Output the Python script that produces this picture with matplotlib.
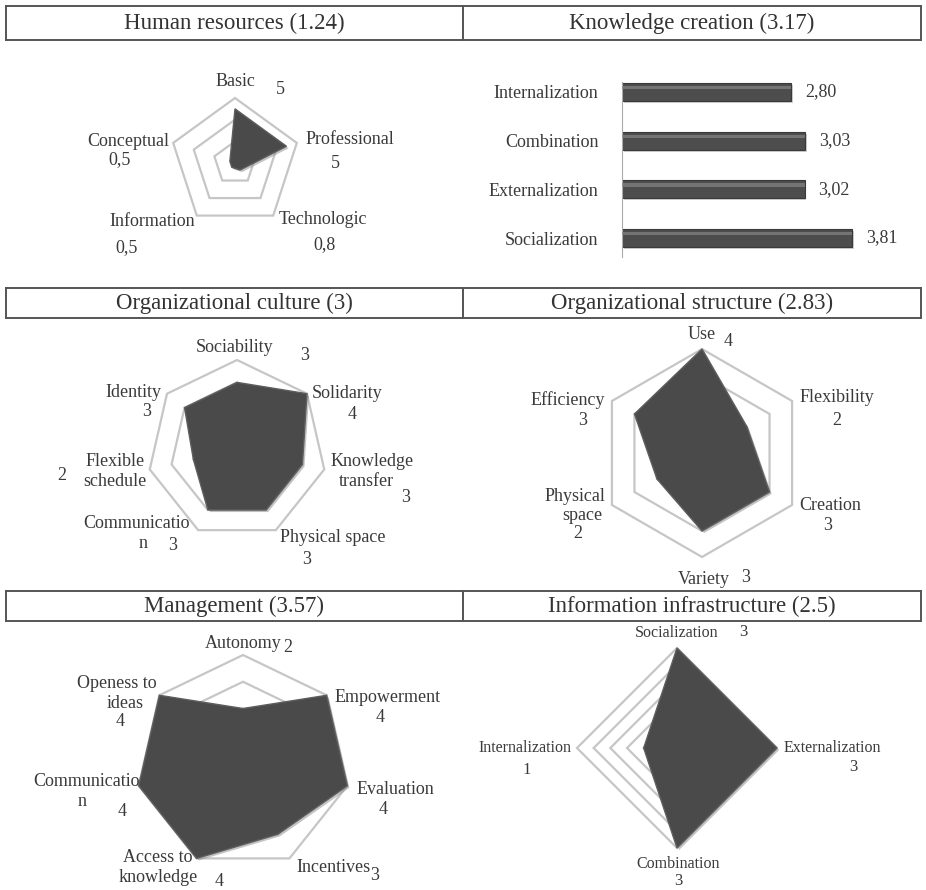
import matplotlib
matplotlib.use('Agg')
import matplotlib.pyplot as plt
import numpy as np
from matplotlib.patches import Polygon
from matplotlib.transforms import ScaledTranslation

W, H = 926, 890
fig = plt.figure(figsize=(W / 100, H / 100), dpi=100)
fig.patch.set_facecolor('white')
SERIF = ['Liberation Serif', 'DejaVu Serif']
LFS = 13  # label font size
LH = 20   # line height (px) for wrapped labels

# ---------------- data ----------------
titles = ['Human resources (1.24)', 'Knowledge creation (3.17)',
          'Organizational culture (3)', 'Organizational structure (2.83)',
          'Management (3.57)', 'Information infrastructure (2.5)']

hr_names = ['Basic', 'Professional', 'Technologic', 'Information', 'Conceptual']
hr_vals = [5, 5, 0.8, 0.5, 0.5]

kc_cats = ['Socialization', 'Externalization', 'Combination', 'Internalization']
kc_vals = [3.81, 3.02, 3.03, 2.80]

oc_names = ['Sociability', 'Solidarity', 'Knowledge\ntransfer', 'Physical space',
            'Communicatio\nn', 'Flexible\nschedule', 'Identity']
oc_vals = [3, 4, 3, 3, 3, 2, 3]

os_names = ['Use', 'Flexibility', 'Creation', 'Variety', 'Physical\nspace', 'Efficiency']
os_vals = [4, 2, 3, 3, 2, 3]

mg_names = ['Autonomy', 'Empowerment', 'Evaluation', 'Incentives',
            'Access to\nknowledge', 'Communicatio\nn', 'Openess to\nideas']
mg_vals = [2, 4, 4, 3, 4, 4, 4]

ii_names = ['Socialization', 'Externalization', 'Combination', 'Internalization']
ii_vals = [3, 3, 3, 1]


def fmt(v):
    return ('%g' % v).replace('.', ',')


def ftext(x, y, s, fs=LFS, lh=LH, dx=None):
    lines = s.split('\n')
    n = len(lines)
    for k, line in enumerate(lines):
        xx = x if dx is None else x + dx[k]
        yy = y + (k - (n - 1) / 2) * lh
        fig.text(xx / W, 1 - yy / H, line, fontsize=fs, ha='center', va='center',
                 family=SERIF, color='#3a3a3a')


# ---------------- title boxes ----------------
rows = [(6, 40), (288, 318), (591, 621)]
for r, (y0, y1) in enumerate(rows):
    for c, (x0, x1) in enumerate([(6, 463), (463, 921)]):
        tax = fig.add_axes([x0 / W, 1 - y1 / H, (x1 - x0) / W, (y1 - y0) / H])
        tax.set_xticks([]); tax.set_yticks([])
        for sp in tax.spines.values():
            sp.set_color('#555555'); sp.set_linewidth(1.4)
        tax.text(0.5, 0.5, titles[r * 2 + c], ha='center', va='center',
                 fontsize=16.5, family=SERIF, color='#333333', transform=tax.transAxes)


# ---------------- radar helper ----------------
def radar(cx, cy, R, vals, rmax, rings):
    S = R * 1.5
    ax = fig.add_axes([(cx - S) / W, 1 - (cy + S) / H, 2 * S / W, 2 * S / H])
    ax.set_facecolor('none')
    lim = rmax * S / R
    ax.set_xlim(-lim, lim); ax.set_ylim(-lim, lim)
    ax.axis('off')
    n = len(vals)
    ang = np.pi / 2 - 2 * np.pi * np.arange(n) / n
    for rv in rings:
        ax.add_patch(Polygon(np.c_[rv * np.cos(ang), rv * np.sin(ang)], closed=True,
                             fill=False, ec='#c6c6c6', lw=1.6, zorder=1))
    v = np.asarray(vals, dtype=float)
    pts = np.c_[v * np.cos(ang), v * np.sin(ang)]
    ax.add_patch(Polygon(pts, closed=True, fc='#8a8a8a', ec='none', alpha=0.5, zorder=2,
                         transform=ax.transData + ScaledTranslation(1.5 / 72, -1.5 / 72, fig.dpi_scale_trans)))
    ax.add_patch(Polygon(pts, closed=True, fc='#4a4a4a', ec='#5e5e5e', lw=1.0, zorder=3))
    return ax


# Human resources
radar(235, 163, 65, hr_vals, 6, [2, 4, 6])
hr_name_pos = [(235, 82), (350, 140), (323, 220), (152, 222), (128, 142)]
hr_val_pos = [(280, 90), (335, 163), (325, 245), (127, 248), (120, 160)]
for s, p in zip(hr_names, hr_name_pos):
    ftext(*p, s)
for v, p in zip(hr_vals, hr_val_pos):
    ftext(*p, fmt(v))

# Organizational culture
radar(237, 449.5, 89.5, oc_vals, 4, [1, 2, 3, 4])
oc_name_pos = [(235, 347), (347, 393), (370, 471), (333, 537), (137, 534), (115, 472), (133, 392)]
oc_line_dx = [None, None, [2, -4], None, [0, 6], None, None]
oc_val_pos = [(305, 355), (352, 415), (406, 497), (307, 560), (173, 545), (62, 475), (147, 412)]
for s, p, d in zip(oc_names, oc_name_pos, oc_line_dx):
    ftext(*p, s, dx=d)
for v, p in zip(oc_vals, oc_val_pos):
    ftext(*p, fmt(v))

# Organizational structure
radar(702, 453, 104, os_vals, 4, [1, 2, 3, 4])
os_name_pos = [(702, 335), (837, 398), (830, 505), (704, 580), (577, 506), (568, 400)]
os_line_dx = [None, None, None, None, [-2, 5], None]
os_val_pos = [(728, 342), (837, 420), (828, 526), (746, 577), (578, 533), (583, 420)]
for s, p, d in zip(os_names, os_name_pos, os_line_dx):
    ftext(*p, s, lh=19, dx=d)
for v, p in zip(os_vals, os_val_pos):
    ftext(*p, fmt(v))

# Management
radar(243, 762, 107, mg_vals, 4, [1, 2, 3, 4])
mg_name_pos = [(243, 643), (388, 697), (395, 790), (333, 868), (158, 867), (86, 792), (120, 694)]
mg_line_dx = [None, None, None, None, None, [0, -4], [-3, 5]]
mg_val_pos = [(288, 648), (380, 718), (383, 810), (375, 876), (219, 881), (122, 812), (120, 722)]
for s, p, d in zip(mg_names, mg_name_pos, mg_line_dx):
    ftext(*p, s, dx=d)
for v, p in zip(mg_vals, mg_val_pos):
    ftext(*p, fmt(v))

# Information infrastructure
radar(677, 748, 100, ii_vals, 3, [0.5, 1, 1.5, 2, 2.5, 3])
ii_name_pos = [(677, 633), (832, 748), (678, 864), (525, 748)]
ii_val_pos = [(743, 632), (853, 767), (678, 881), (527, 770)]
for s, p in zip(ii_names, ii_name_pos):
    ftext(*p, s, fs=11.5)
for v, p in zip(ii_vals, ii_val_pos):
    ftext(*p, fmt(v), fs=12)

# ---------------- Knowledge creation bars ----------------
bx0, by0, bx1, by1 = 622, 82, 894, 257
bax = fig.add_axes([bx0 / W, 1 - by1 / H, (bx1 - bx0) / W, (by1 - by0) / H])
bax.set_facecolor('none')
ypos = np.arange(len(kc_cats))
bax.barh(ypos - 0.04, kc_vals, height=0.37, color='#a0a0a0', alpha=0.5, left=0.03, zorder=1)
bax.barh(ypos, kc_vals, height=0.37, color='#4d4d4d', edgecolor='#3a3a3a', lw=0.8, zorder=2)
bax.barh(ypos + 0.09, kc_vals, height=0.07, color='#858585', alpha=0.7, lw=0, zorder=3)
bax.set_xlim(0, 4.5)
bax.set_ylim(-0.39, 3.205)
bax.set_yticks(ypos)
bax.set_yticklabels(kc_cats, family=SERIF, fontsize=LFS, color='#3a3a3a')
bax.tick_params(axis='y', length=0, pad=17)
bax.set_xticks([])
for k in ['top', 'right', 'bottom']:
    bax.spines[k].set_visible(False)
bax.spines['left'].set_color('#aaaaaa')
for y, v in zip(ypos, kc_vals):
    bax.annotate(('%.2f' % v).replace('.', ','), (v, y), xytext=(10, 0),
                 textcoords='offset points', va='center', ha='left',
                 fontsize=LFS, family=SERIF, color='#3a3a3a')

fig.savefig('out.png', dpi=100, facecolor='white')
